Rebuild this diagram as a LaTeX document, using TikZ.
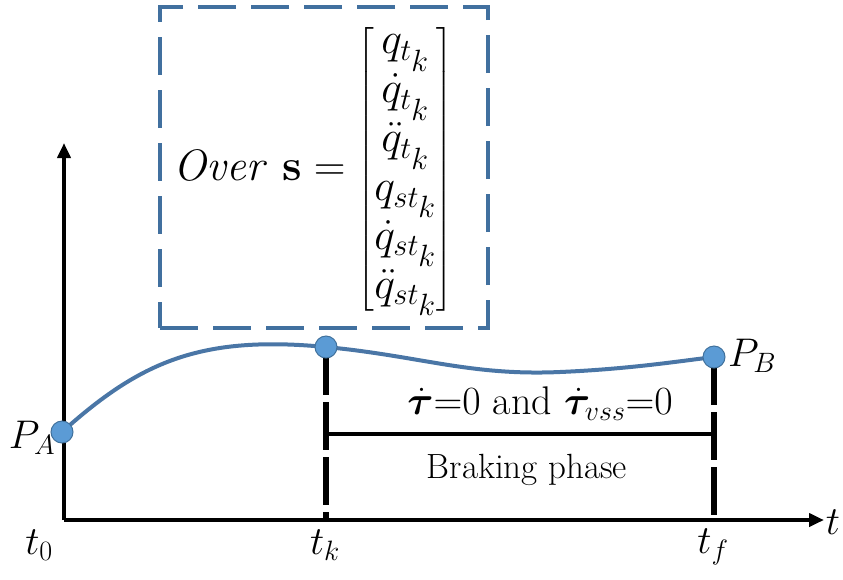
\RequirePackage{fix-cm}
\documentclass[tikz,border=0pt]{standalone}
\usepackage{amsmath,bm}
\usetikzlibrary{arrows.meta}
\definecolor{boxblue}{HTML}{41709F}
\definecolor{curveblue}{HTML}{4A76A6}
\definecolor{dotfill}{HTML}{5B9BD5}
\definecolor{dotline}{HTML}{41719C}
\newcommand{\kk}{{\scriptstyle k}}
\begin{document}
\begin{tikzpicture}[x=1pt,y=-1pt,
  axis/.style={line width=4pt, -{Triangle[length=15pt,width=13pt]}},
  dashbox/.style={draw=boxblue, line width=4pt, dash pattern=on 38pt off 15pt, minimum width=328pt, minimum height=321pt, inner sep=0pt},
  curve/.style={draw=curveblue, line width=4pt},
  dot/.style={circle, fill=dotfill, draw=dotline, line width=1pt, minimum size=22pt, inner sep=0pt},
  vdash/.style={line width=5.5pt, dash pattern=on 48pt off 7pt},
  bar/.style={line width=4pt},
  lbl/.style={inner sep=0pt, font=\fontsize{40}{48}\selectfont},
  txt/.style={inner sep=0pt, font=\fontsize{35}{42}\selectfont}
]
\useasboundingbox (0,0) rectangle (843,579);
% axes
\coordinate (O) at (64,520);
\coordinate (ytip) at (64,143);
\coordinate (xtip) at (824,520);
\draw[axis] (O) -- (ytip);
\draw[axis] (O) -- (xtip);
% dashed box and formula
\node[dashbox] (box) at (324,167.5) {};
\node[inner sep=0pt, font=\fontsize{44}{50}\selectfont] (formula) at (313,169)
  {\renewcommand\arraystretch{0.9}\delimiterfactor=850 \delimitershortfall=16pt $\mathit{Over}\ \mathbf{s} = \begin{bmatrix} q_{t_\kk}\\ \dot{q}_{t_\kk}\\ \ddot{q}_{t_\kk}\\ q_{st_\kk}\\ \dot{q}_{st_\kk}\\ \ddot{q}_{st_\kk}\end{bmatrix}$};
% feet and bar coordinates
\coordinate (fk) at (326,520);
\coordinate (ff) at (714,520);
\coordinate (bk) at (326,434);
\coordinate (bf) at (714,434);
% points (positions)
\coordinate (pa0) at (62,432);
\coordinate (pk0) at (326,347);
\coordinate (pb0) at (714,357);
% vertical dashed lines
\draw[vdash] (pk0) -- (fk);
\draw[vdash] (pb0) -- (ff);
% braking bar
\draw[bar] (bk) -- (bf);
% curve
\draw[curve] (pa0) .. controls (140,362) and (200,335) .. (pk0)
  .. controls (420,356) and (470,376) .. (560,372)
  .. controls (630,369) and (680,361) .. (pb0);
% dots
\node[dot] (pa) at (pa0) {};
\node[dot] (pk) at (pk0) {};
\node[dot] (pb) at (pb0) {};
% labels
\node[lbl] (lpa) at (32,438) {$P_A$};
\node[lbl] (lpb) at (752,356) {$P_B$};
\node[lbl] (lt0) at (39,545) {$t_0$};
\node[lbl] (ltk) at (325,545) {$t_k$};
\node[lbl] (ltf) at (713,547) {$t_f$};
\node[lbl] (lt) at (833,522) {$t$};
\node[inner sep=0pt, font=\fontsize{40}{47}\selectfont] (cond) at (540,404)
  {$\dot{\bm{\tau}}{=}0$ and $\dot{\bm{\tau}}_{vss}{=}0$};
\node[txt] (brake) at (527,470) {Braking phase};
\end{tikzpicture}
\end{document}
